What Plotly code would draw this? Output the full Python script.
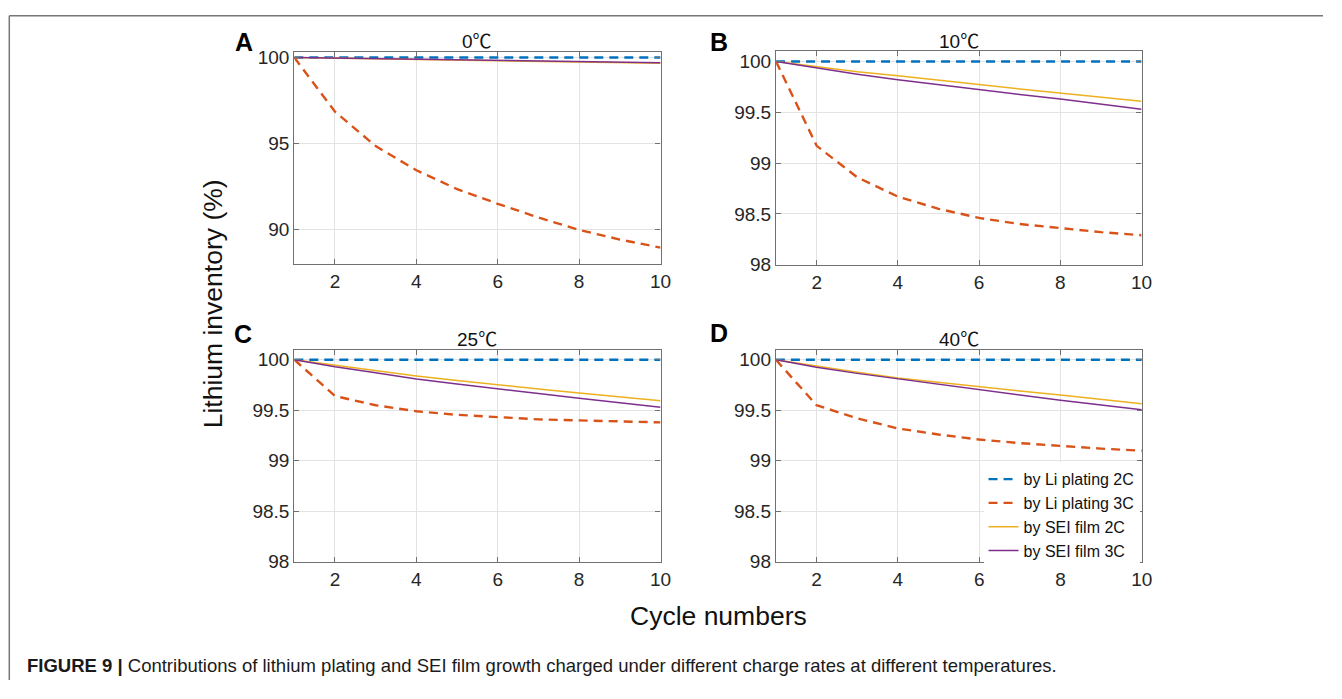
import plotly.graph_objects as go

# ---------------- data ----------------
cycles = [1, 2, 3, 4, 5, 6, 7, 8, 9, 10]

panel_titles = ["0", "10", "25", "40"]
panel_letters = ["A", "B", "C", "D"]
series_names = ["by Li plating 2C", "by Li plating 3C", "by SEI film 2C", "by SEI film 3C"]

# 0 ℃
li2c_A = [100, 100, 100, 100, 100, 100, 100, 100, 100, 100]
li3c_A = [100, 96.85, 94.85, 93.45, 92.35, 91.5, 90.7, 89.98, 89.42, 88.95]
sei2c_A = [100, 99.96, 99.92, 99.88, 99.84, 99.80, 99.76, 99.73, 99.69, 99.66]
sei3c_A = [100, 99.97, 99.93, 99.90, 99.86, 99.83, 99.79, 99.76, 99.73, 99.70]

# 10 ℃
li2c_B = [100, 100, 100, 100, 100, 100, 100, 100, 100, 100]
li3c_B = [100, 99.17, 98.86, 98.67, 98.55, 98.46, 98.40, 98.36, 98.32, 98.29]
sei2c_B = [100, 99.95, 99.90, 99.86, 99.82, 99.775, 99.73, 99.69, 99.65, 99.61]
sei3c_B = [100, 99.935, 99.875, 99.82, 99.77, 99.72, 99.675, 99.63, 99.58, 99.53]

# 25 ℃
li2c_C = [100, 100, 100, 100, 100, 100, 100, 100, 100, 100]
li3c_C = [100, 99.64, 99.55, 99.49, 99.455, 99.43, 99.41, 99.40, 99.39, 99.38]
sei2c_C = [100, 99.945, 99.89, 99.84, 99.795, 99.75, 99.71, 99.67, 99.635, 99.595]
sei3c_C = [100, 99.93, 99.87, 99.81, 99.76, 99.71, 99.665, 99.62, 99.575, 99.53]

# 40 ℃
li2c_D = [100, 100, 100, 100, 100, 100, 100, 100, 100, 100]
li3c_D = [100, 99.55, 99.42, 99.32, 99.26, 99.21, 99.175, 99.145, 99.12, 99.10]
sei2c_D = [100, 99.935, 99.875, 99.82, 99.775, 99.73, 99.69, 99.65, 99.605, 99.565]
sei3c_D = [100, 99.925, 99.865, 99.81, 99.755, 99.70, 99.65, 99.60, 99.55, 99.505]

x_ticks = [2, 4, 6, 8, 10]
y_ticks_A = [90, 95, 100]
y_ticks_other = [98, 98.5, 99, 99.5, 100]
y_ticklabels_other = ["98", "98.5", "99", "99.5", "100"]

# ---------------- styling ----------------
PAGE_W, PAGE_H = 1342, 699
OFF = 8                      # default body margin of the html page
W, H = PAGE_W - 2 * OFF, PAGE_H - 2 * OFF


def px(xp):
    return (xp - OFF) / W


def py(yp):
    return 1 - (yp - OFF) / H


FONT = "Liberation Sans, Arial, Helvetica, sans-serif"
CJK = "Noto Sans CJK SC"
colors = ["#0072BD", "#D95319", "#EDB120", "#7E2F8E"]
widths = [2.4, 2.4, 1.5, 1.5]
dashes = ["9px,6px", "9px,6px", "solid", "solid"]

panels = [
    (li2c_A, li3c_A, sei2c_A, sei3c_A),
    (li2c_B, li3c_B, sei2c_B, sei3c_B),
    (li2c_C, li3c_C, sei2c_C, sei3c_C),
    (li2c_D, li3c_D, sei2c_D, sei3c_D),
]

# page-pixel boxes of plot areas (left, right, top, bottom)
boxes = [
    (296.7, 666.0, 48.3, 265.0),
    (782.5, 1151.0, 47.3, 265.7),
    (296.7, 666.0, 352.7, 570.0),
    (782.3, 1151.3, 352.7, 570.0),
]
yranges = [[88.0, 100.3], [98.0, 100.1], [98.0, 100.1], [98.0, 100.1]]

fig = go.Figure()

for i, series in enumerate(panels):
    ax = "" if i == 0 else str(i + 1)
    for j, ys in enumerate(series):
        fig.add_trace(go.Scatter(
            x=cycles, y=ys, mode="lines", name=series_names[j],
            line=dict(color=colors[j], width=widths[j], dash=dashes[j]),
            xaxis="x" + ax, yaxis="y" + ax,
            showlegend=(i == 3), legendgroup=series_names[j],
        ))

axis_common = dict(
    showline=True, linecolor="#707070", linewidth=1.2, mirror="ticks",
    ticks="inside", ticklen=5, tickcolor="#707070", tickwidth=1,
    showgrid=True, gridcolor="#e3e3e3", gridwidth=1, zeroline=False,
    tickfont=dict(family=FONT, size=19, color="#262626"),
)

layout_axes = {}
for i, (l, r, t, b) in enumerate(boxes):
    ax = "" if i == 0 else str(i + 1)
    layout_axes["xaxis" + ax] = dict(
        axis_common, domain=[px(l), px(r)], range=[1, 10], tickvals=x_ticks,
        anchor="y" + ax,
    )
    if i == 0:
        yt = dict(tickvals=y_ticks_A)
    else:
        yt = dict(tickvals=y_ticks_other, ticktext=y_ticklabels_other)
    layout_axes["yaxis" + ax] = dict(
        axis_common, domain=[py(b), py(t)], range=yranges[i], anchor="x" + ax, **yt
    )

fig.update_layout(**layout_axes)

annotations = []
title_pos = [(481, 35), (967, 35), (481, 340), (967, 340)]
letter_pos = [(246, 38), (725, 38), (245, 337), (725, 336)]
for i in range(4):
    tx, ty = title_pos[i]
    annotations.append(dict(
        text=panel_titles[i] + "<span style='font-family:" + CJK + "'>℃</span>",
        x=px(tx), y=py(ty), xref="paper", yref="paper",
        showarrow=False, xanchor="center", yanchor="middle",
        font=dict(family=FONT, size=19, color="#111111"),
    ))
    lx, ly = letter_pos[i]
    annotations.append(dict(
        text="<b>" + panel_letters[i] + "</b>", x=px(lx), y=py(ly),
        xref="paper", yref="paper", showarrow=False,
        xanchor="center", yanchor="middle",
        font=dict(family=FONT, size=25, color="#000000"),
    ))

annotations.append(dict(
    text="Cycle numbers", x=px(724), y=py(625), xref="paper", yref="paper",
    showarrow=False, xanchor="center", yanchor="middle",
    font=dict(family=FONT, size=26.5, color="#111111"),
))
annotations.append(dict(
    text="Lithium inventory (%)", x=px(215), y=py(306), xref="paper",
    yref="paper", showarrow=False, textangle=-90,
    xanchor="center", yanchor="middle",
    font=dict(family=FONT, size=26.5, color="#111111"),
))
annotations.append(dict(
    text="<b>FIGURE 9 |</b> Contributions of lithium plating and SEI film growth "
         "charged under different charge rates at different temperatures.",
    x=px(25), y=py(676), xref="paper", yref="paper", showarrow=False,
    xanchor="left", yanchor="middle",
    font=dict(family=FONT, size=18.5, color="#1a1a1a"),
))

shapes = [
    dict(type="line", xref="paper", yref="paper", x0=px(9.3), x1=1.0,
         y0=py(10.7), y1=py(10.7), line=dict(color="#777777", width=1.5)),
    dict(type="line", xref="paper", yref="paper", x0=px(9.3), x1=px(9.3),
         y0=py(10.7), y1=0.0, line=dict(color="#777777", width=1.5)),
]

fig.update_layout(
    width=W, height=H,
    margin=dict(l=0, r=0, t=0, b=0),
    paper_bgcolor="white", plot_bgcolor="white",
    annotations=annotations, shapes=shapes,
    showlegend=True,
    legend=dict(
        x=px(1149), y=py(468), xanchor="right", yanchor="top",
        bgcolor="white", borderwidth=0,
        font=dict(family=FONT, size=16, color="#111111"),
        tracegroupgap=0, itemwidth=30,
    ),
)

fig.write_html("out.html")
